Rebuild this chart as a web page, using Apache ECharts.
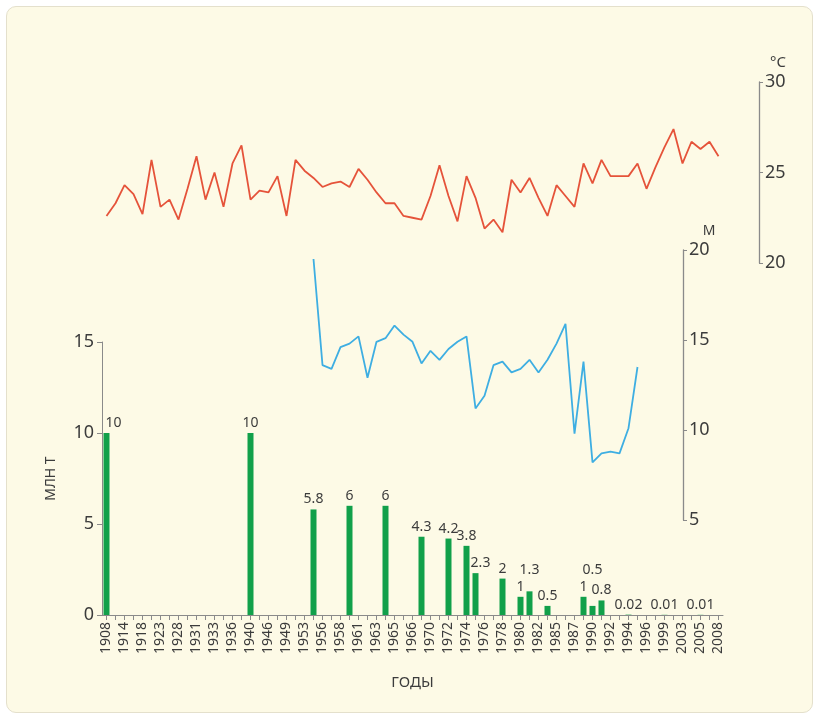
<!DOCTYPE html>
<html>
<head>
<meta charset="utf-8">
<script src="https://cdn.jsdelivr.net/npm/echarts@6/dist/echarts.min.js"></script>
<style>
  html, body { margin: 0; padding: 0; background: #fff; }
  #box {
    position: absolute; left: 6px; top: 6px; width: 805px; height: 705px;
    background: #fdfae6; border: 1px solid #e4e0cc; border-radius: 10px;
  }
  #chart { position: absolute; left: 0; top: 0; width: 819px; height: 719px; }
</style>
</head>
<body>
<div id="box"></div>
<div id="chart"></div>
<script>
// x axis: labelled years (every other slot), slots in between carry no label
const yearLabels = [
  "1908", "1914", "1918", "1923", "1928", "1931", "1933", "1936", "1940",
  "1946", "1949", "1953", "1956", "1958", "1961", "1963", "1965", "1966",
  "1970", "1972", "1974", "1976", "1978", "1980", "1982", "1985", "1987",
  "1990", "1992", "1994", "1996", "1999", "2003", "2005", "2008"
]

// water temperature, °C (one point per slot, 69 slots)
const temperature = [
  22.6, 23.3, 24.3, 23.8, 22.7, 25.7, 23.1, 23.5, 22.4, 24.1,
  25.9, 23.5, 25.0, 23.1, 25.5, 26.5, 23.5, 24.0, 23.9, 24.8,
  22.6, 25.7, 25.1, 24.7, 24.2, 24.4, 24.5, 24.2, 25.2, 24.6,
  23.9, 23.3, 23.3, 22.6, 22.5, 22.4, 23.7, 25.4, 23.7, 22.3,
  24.8, 23.6, 21.9, 22.4, 21.7, 24.6, 23.9, 24.7, 23.6, 22.6,
  24.3, 23.7, 23.1, 25.5, 24.4, 25.7, 24.8, 24.8, 24.8, 25.5,
  24.1, 25.3, 26.4, 27.4, 25.5, 26.7, 26.3, 26.7, 25.9
]

// depth, м (starts at slot 23)
const depthStart = 23
const depth = [
  19.5, 13.6, 13.4, 14.6, 14.8, 15.2, 12.9, 14.9, 15.1, 15.8,
  15.3, 14.9, 13.7, 14.4, 13.9, 14.5, 14.9, 15.2, 11.2, 11.9,
  13.6, 13.8, 13.2, 13.4, 13.9, 13.2, 13.9, 14.8, 15.9, 9.8,
  13.8, 8.2, 8.7, 8.8, 8.7, 10.1, 13.5
]

// catch, млн т: slot on the x axis and value
const catchSlot = [0, 16, 23, 27, 31, 35, 38, 40, 41, 44, 46, 47, 49, 53, 54, 55, 58, 62, 66]
const catchValue = [10, 10, 5.8, 6, 6, 4.3, 4.2, 3.8, 2.3, 2, 1, 1.3, 0.5, 1, 0.5, 0.8, 0.02, 0.01, 0.01]

// label nudges for crowded bars (index into catch arrays -> [dx, dy])
const labelNudge = { 0: [7, 0], 8: [5, 0], 11: [0, -11], 14: [0, -26] }

const categories = []
yearLabels.forEach((y, i) => {
  categories.push(y)
  if (i < yearLabels.length - 1) categories.push(y + "+")
})

const font = "Noto Sans"
const textColor = "#3c3c3c"
const axisColor = "#8a8a8a"

const chart = echarts.init(document.getElementById("chart"))

const gridBase = { left: 102, right: 96, outerBoundsMode: "none", containLabel: false }

const hiddenX = (gridIndex) => ({
  type: "category",
  gridIndex: gridIndex,
  data: categories,
  boundaryGap: true,
  show: false,
})

const option = {
  backgroundColor: "transparent",
  animation: false,
  grid: [
    Object.assign({ top: 342, height: 273 }, gridBase),
    Object.assign({ top: 82, height: 181 }, gridBase),
    Object.assign({ top: 250, height: 270 }, gridBase),
  ],
  xAxis: [
    {
      type: "category",
      gridIndex: 0,
      data: categories,
      boundaryGap: true,
      name: "ГОДЫ",
      nameLocation: "middle",
      nameGap: 60,
      nameTextStyle: { color: textColor, fontFamily: font, fontSize: 15 },
      axisLine: { lineStyle: { color: axisColor, width: 1 } },
      axisTick: { show: true, interval: 0, alignWithLabel: true, length: 5, lineStyle: { color: axisColor } },
      axisLabel: {
        interval: 1,
        rotate: 90,
        margin: 7,
        color: textColor,
        fontFamily: font,
        fontSize: 14,
      },
      splitLine: { show: false },
    },
    hiddenX(1),
    hiddenX(2),
  ],
  yAxis: [
    {
      type: "value",
      gridIndex: 0,
      min: 0,
      max: 15,
      interval: 5,
      name: "МЛН Т",
      nameLocation: "middle",
      nameGap: 44,
      nameTextStyle: { color: textColor, fontFamily: font, fontSize: 14 },
      axisLine: { show: true, lineStyle: { color: axisColor } },
      axisTick: { show: true, length: 5, lineStyle: { color: axisColor } },
      axisLabel: { color: textColor, fontFamily: font, fontSize: 18, margin: 8 },
      splitLine: { show: false },
    },
    {
      type: "value",
      gridIndex: 1,
      position: "right",
      offset: 36,
      min: 20,
      max: 30,
      interval: 5,
      name: "°C",
      nameLocation: "end",
      nameGap: 12,
      nameTextStyle: { color: textColor, fontFamily: font, fontSize: 15, padding: [0, 0, 0, 38] },
      axisLine: { show: true, lineStyle: { color: axisColor, width: 1.3 } },
      axisTick: { show: true, length: 4, lineStyle: { color: axisColor } },
      axisLabel: { color: textColor, fontFamily: font, fontSize: 18, margin: 6 },
      splitLine: { show: false },
    },
    {
      type: "value",
      gridIndex: 2,
      position: "right",
      offset: -40,
      min: 5,
      max: 20,
      interval: 5,
      name: "М",
      nameLocation: "end",
      nameGap: 12,
      nameTextStyle: { color: textColor, fontFamily: font, fontSize: 14, padding: [0, 0, 0, 52] },
      axisLine: { show: true, lineStyle: { color: axisColor, width: 1.3 } },
      axisTick: { show: true, length: 4, lineStyle: { color: axisColor } },
      axisLabel: { color: textColor, fontFamily: font, fontSize: 18, margin: 6 },
      splitLine: { show: false },
    },
  ],
  series: [
    {
      name: "Улов",
      type: "bar",
      xAxisIndex: 0,
      yAxisIndex: 0,
      barWidth: 6,
      itemStyle: { color: "#11a04a" },
      label: {
        show: true,
        position: "top",
        distance: 3,
        color: textColor,
        fontFamily: font,
        fontSize: 14,
      },
      data: catchSlot.map((slot, i) => {
        const item = { value: [slot, catchValue[i]] }
        if (labelNudge[i]) item.label = { offset: labelNudge[i] }
        return item
      }),
    },
    {
      name: "Температура",
      type: "line",
      xAxisIndex: 1,
      yAxisIndex: 1,
      data: temperature,
      symbol: "none",
      lineStyle: { color: "#e5533a", width: 1.8 },
    },
    {
      name: "Глубина",
      type: "line",
      xAxisIndex: 2,
      yAxisIndex: 2,
      data: depth.map((v, i) => [depthStart + i, v]),
      symbol: "none",
      lineStyle: { color: "#3eaee2", width: 1.8 },
    },
  ],
}

chart.setOption(option)
</script>
</body>
</html>
